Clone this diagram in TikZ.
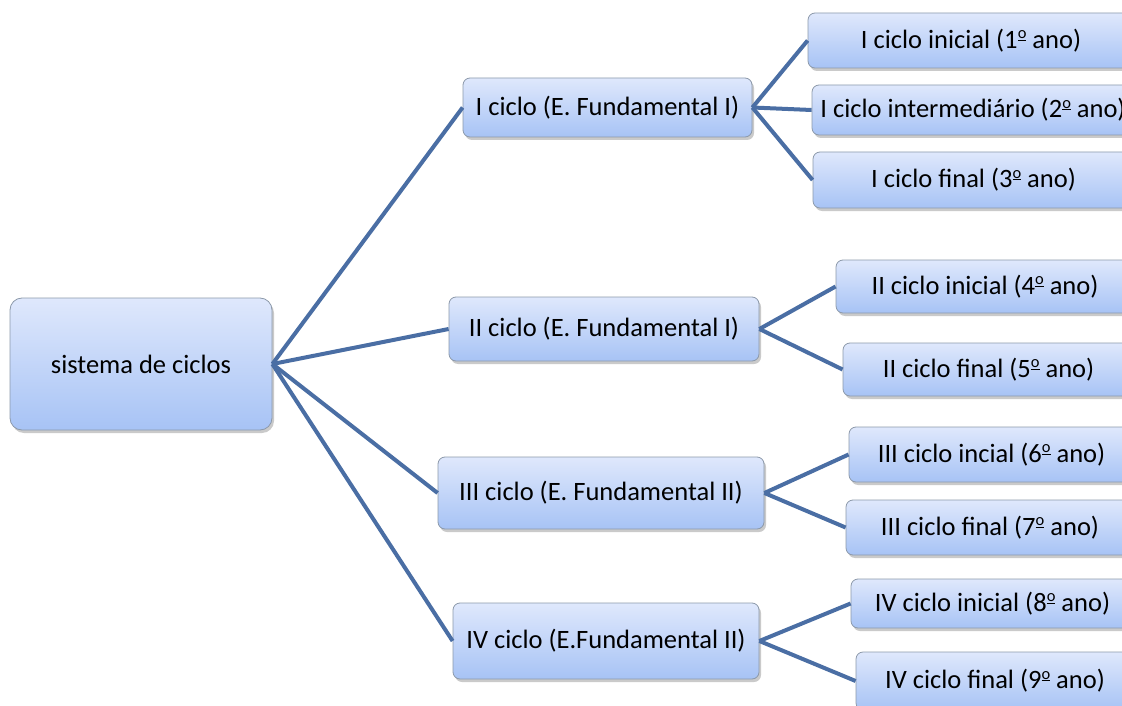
\documentclass[tikz,border=0pt]{standalone}
\usepackage{fontspec}
\usepackage{graphicx}
\setmainfont{Carlito}
\usetikzlibrary{shadows}
\definecolor{edgec}{HTML}{4A6EA4}
\definecolor{topc}{HTML}{DFE8FC}
\definecolor{botc}{HTML}{A7C3F5}
\definecolor{bordc}{HTML}{8C99AA}
\newcommand\ordm{\raisebox{0.36em}{\scalebox{0.62}{\underline{o}}}}
\tikzset{
  box/.style={draw=bordc, line width=0.8pt, rounded corners=7pt, top color=topc, bottom color=botc,
    drop shadow={shadow xshift=2pt, shadow yshift=-3pt, opacity=0.35, fill=black!60},
    font=\fontsize{26.5}{30}\selectfont, inner sep=0pt},
  link/.style={edgec, line width=4pt}
}
\begin{document}
\begin{tikzpicture}[x=1pt,y=-1pt]
\useasboundingbox (0,0) rectangle (1122,706);
\clip (0,0) rectangle (1122,706);
% root
\node[box, rounded corners=12pt, minimum width=262pt, minimum height=132pt] (root) at (141,364) {sistema de ciclos};
% level 1
\node[box, minimum width=289pt, minimum height=59pt] (c1) at (607.5,107.5) {I ciclo (E. Fundamental I)};
\node[box, minimum width=310pt, minimum height=64pt] (c2) at (604,329) {II ciclo (E. Fundamental I)};
\node[box, minimum width=326pt, minimum height=72pt] (c3) at (601,493) {III ciclo (E. Fundamental II)};
\node[box, minimum width=306pt, minimum height=76pt] (c4) at (606,641) {IV ciclo (E.Fundamental II)};
% level 2
\node[box, minimum width=326pt, minimum height=55pt] (a1) at (971,40.5) {I ciclo inicial (1\ordm{} ano)};
\node[box, minimum width=322pt, minimum height=50pt] (a2) at (973,110) {I ciclo intermediário (2\ordm{} ano)};
\node[box, minimum width=321pt, minimum height=56pt] (a3) at (973.5,180) {I ciclo final (3\ordm{} ano)};
\node[box, minimum width=298pt, minimum height=53pt] (b1) at (985,286.5) {II ciclo inicial (4\ordm{} ano)};
\node[box, minimum width=291pt, minimum height=53pt] (b2) at (988.5,369.5) {II ciclo final (5\ordm{} ano)};
\node[box, minimum width=285pt, minimum height=55pt] (d1) at (991.5,454.5) {III ciclo incial (6\ordm{} ano)};
\node[box, minimum width=288pt, minimum height=55pt] (d2) at (990,527.5) {III ciclo final (7\ordm{} ano)};
\node[box, minimum width=283pt, minimum height=49pt] (e1) at (992.5,603.5) {IV ciclo inicial (8\ordm{} ano)};
\node[box, minimum width=278pt, minimum height=58pt] (e2) at (995,681) {IV ciclo final (9\ordm{} ano)};
% links
\foreach \t in {c1,c2,c3,c4} \draw[link] (root.east) -- (\t.west);
\foreach \t in {a1,a2,a3} \draw[link] (c1.east) -- (\t.west);
\foreach \t in {b1,b2} \draw[link] (c2.east) -- (\t.west);
\foreach \t in {d1,d2} \draw[link] (c3.east) -- (\t.west);
\foreach \t in {e1,e2} \draw[link] (c4.east) -- (\t.west);
\end{tikzpicture}
\end{document}
